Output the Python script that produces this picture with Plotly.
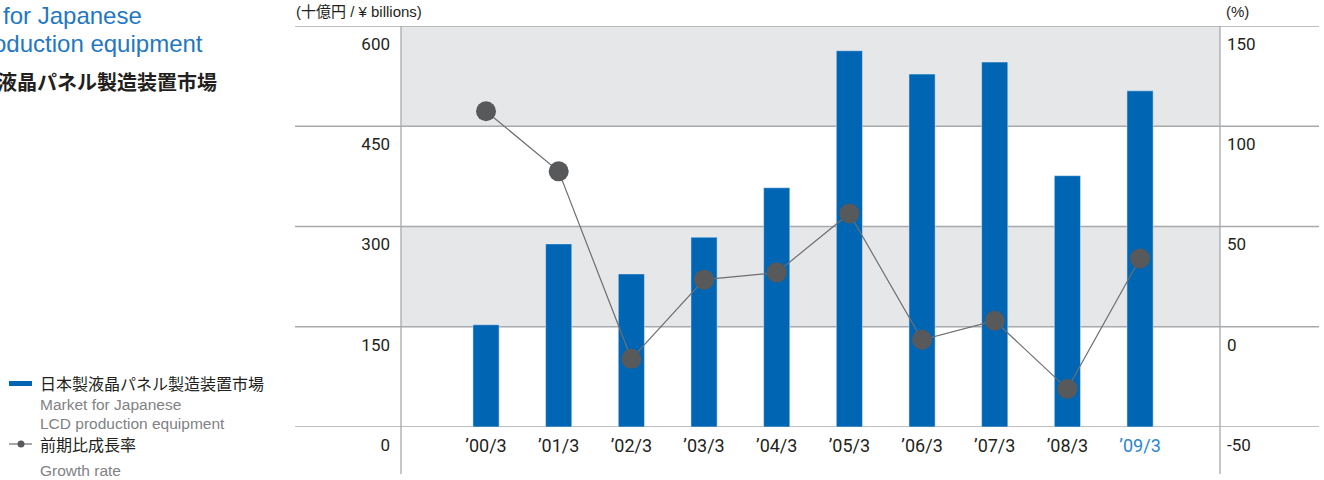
import plotly.graph_objects as go

# data
years = ["’00/3", "’01/3", "’02/3", "’03/3", "’04/3", "’05/3", "’06/3", "’07/3", "’08/3", "’09/3"]
market = [153, 274, 229, 284, 358, 563, 528, 546, 376, 503]      # 十億円
growth = [107.5, 77.5, -16.0, 23.5, 27.0, 56.5, -6.5, 3.0, -31.0, 34.0]  # %
left_ticks = [0, 150, 300, 450, 600]
right_ticks = [-50, 0, 50, 100, 150]

W, H = 1324, 480
L, R, T, B = 401, 1220, 26, 427   # plot box in pixels

BLUE = "#0066b3"
TITLE_BLUE = "#1f78c1"
DOT = "#58595b"
GRID = "#a7a9ac"
BAND = "#e6e7e8"
TXT = "#231f20"
GRAYTXT = "#808285"
FONT = "Roboto, Liberation Sans, Noto Sans CJK JP, sans-serif"
FONT2 = "Liberation Sans, Arial, Noto Sans CJK JP, sans-serif"
JP = "Noto Sans CJK JP, sans-serif"


def px(x):
    return (x - L) / (R - L)


def py(y):
    return (B - y) / (B - T)


ticktext = years[:-1] + ['<span style="color:#2a86cc">' + years[-1] + '</span>']

fig = go.Figure()
fig.add_trace(go.Bar(x=years, y=market, marker_color=BLUE, width=0.36,
                     yaxis="y", showlegend=False, hoverinfo="x+y"))
fig.add_trace(go.Scatter(x=years, y=growth, yaxis="y2", mode="lines+markers",
                         line=dict(color="#6d6e71", width=1.2),
                         marker=dict(color=DOT, size=20), showlegend=False))

shapes = []
# grey bands
for lo, hi in [(150, 300), (450, 600)]:
    shapes.append(dict(type="rect", xref="paper", yref="y", x0=0, x1=1, y0=lo, y1=hi,
                       fillcolor=BAND, line_width=0, layer="below"))
# horizontal rules, running past the box
for v in left_ticks:
    shapes.append(dict(type="line", xref="paper", yref="y", x0=px(295), x1=px(1319),
                       y0=v, y1=v, line=dict(color=GRID, width=1.3), layer="below"))
# vertical rules
for xx in [0, 1]:
    shapes.append(dict(type="line", xref="paper", yref="paper", x0=xx, x1=xx,
                       y0=py(474), y1=1, line=dict(color=GRID, width=1.3)))
# legend symbols
shapes.append(dict(type="rect", xref="paper", yref="paper", x0=px(9), x1=px(32),
                   y0=py(386), y1=py(381), fillcolor=BLUE, line_width=0))
shapes.append(dict(type="line", xref="paper", yref="paper", x0=px(9), x1=px(32),
                   y0=py(444), y1=py(444), line=dict(color="#6d6e71", width=1.2)))
shapes.append(dict(type="circle", xref="paper", yref="paper", x0=px(17.5), x1=px(24.5),
                   y0=py(447.5), y1=py(440.5), fillcolor=DOT, line_width=0))


def note(text, x, y, size, color, anchor="left", family=FONT2):
    return dict(text=text, xref="paper", yref="paper", x=px(x), y=py(y),
                xanchor=anchor, yanchor="middle", showarrow=False, borderpad=0,
                font=dict(size=size, color=color, family=family))


annotations = [
    # cut-off title at top left
    note("Market for Japanese", 143, 15, 24, TITLE_BLUE, "right"),
    note("LCD production equipment", 204, 43, 24, TITLE_BLUE, "right"),
    note("<b>日本製液晶パネル製造装置市場</b>", 218, 81, 20, TXT, "right", JP),
    # legend
    note("日本製液晶パネル製造装置市場", 39, 383, 16, TXT, family=JP),
    note("Market for Japanese", 39, 404, 15.5, GRAYTXT),
    note("LCD production equipment", 39, 423, 15.5, GRAYTXT),
    note("前期比成長率", 39, 444, 16, TXT, family=JP),
    note("Growth rate", 39, 470, 15.5, GRAYTXT),
    # axis units
    note("(十億円 / ¥ billions)", 295, 11, 15, TXT, family=FONT2),
    note("(%)", 1250, 11, 15, TXT, "right", family=FONT2),
]

fig.update_layout(
    width=W, height=H,
    margin=dict(l=L, r=W - R, t=T, b=H - B),
    paper_bgcolor="white", plot_bgcolor="white",
    shapes=shapes, annotations=annotations,
    xaxis=dict(type="category", range=[-1.17, 10.1], showgrid=False, zeroline=False,
               showline=False, ticks="", tickvals=years, ticktext=ticktext,
               tickfont=dict(family=FONT, size=18, color=TXT), ticklabelstandoff=6),
    yaxis=dict(range=[0, 600], tickvals=left_ticks, ticktext=[str(v) for v in left_ticks],
               showgrid=False, zeroline=False,
               showline=False, ticks="", tickfont=dict(family=FONT, size=17, color=TXT),
               ticklabelshift=18, ticklabelstandoff=10),
    yaxis2=dict(range=[-50, 150], tickvals=right_ticks, ticktext=[str(v) for v in right_ticks],
                overlaying="y", side="right",
                showgrid=False, zeroline=False, showline=False, ticks="",
                tickfont=dict(family=FONT, size=17, color=TXT),
                ticklabelshift=18, ticklabelstandoff=6),
)

fig.write_html("out.html", config={"displayModeBar": False},
               post_script="document.body.style.margin='0';")
